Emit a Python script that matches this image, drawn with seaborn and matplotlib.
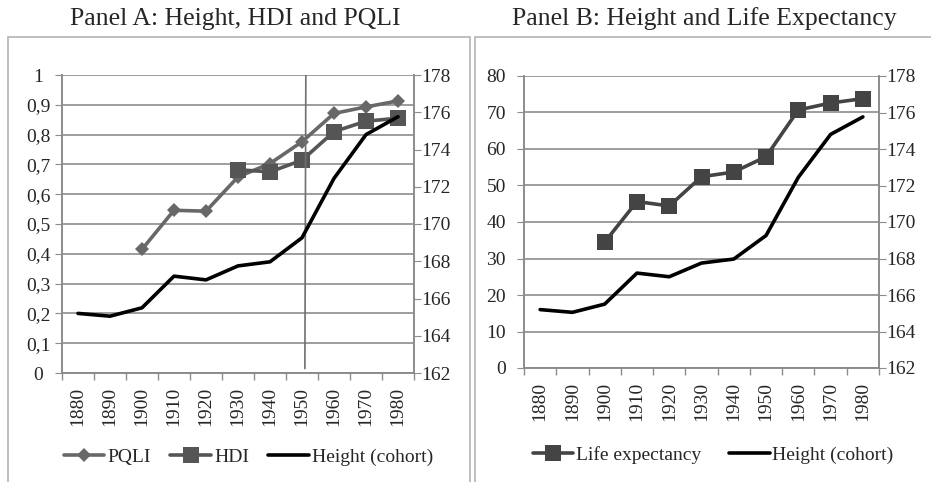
import numpy as np
import pandas as pd
import seaborn as sns
import matplotlib.pyplot as plt
from matplotlib.patches import Rectangle
from matplotlib.ticker import FixedLocator, FuncFormatter

years = [1880, 1890, 1900, 1910, 1920, 1930, 1940, 1950, 1960, 1970, 1980]
height = [165.2, 165.05, 165.5, 167.2, 167.0, 167.75, 167.97, 169.26, 172.45, 174.8, 175.76]
pqli_years = [1900, 1910, 1920, 1930, 1940, 1950, 1960, 1970, 1980]
pqli = [0.415, 0.546, 0.543, 0.658, 0.703, 0.776, 0.871, 0.893, 0.913]
hdi_years = [1930, 1940, 1950, 1960, 1970, 1980]
hdi = [0.682, 0.675, 0.714, 0.810, 0.845, 0.855]
le_years = [1900, 1910, 1920, 1930, 1940, 1950, 1960, 1970, 1980]
life_exp = [34.5, 45.6, 44.4, 52.4, 53.7, 57.9, 70.7, 72.6, 73.8]

sns.set_style('white')
plt.rcParams['font.family'] = ['Liberation Serif', 'DejaVu Serif']

GRID = '#8c8c8c'
FS = 14
pos = {y: i for i, y in enumerate(years)}

h_df = pd.DataFrame({'x': [pos[y] for y in years], 'v': height})
pqli_df = pd.DataFrame({'x': [pos[y] for y in pqli_years], 'v': pqli})
hdi_df = pd.DataFrame({'x': [pos[y] for y in hdi_years], 'v': hdi})
le_df = pd.DataFrame({'x': [pos[y] for y in le_years], 'v': life_exp})

W, H = 931, 482
fig = plt.figure(figsize=(W / 100, H / 100), dpi=100)


def px_axes(left, right, top, bottom):
    return fig.add_axes([left / W, 1 - bottom / H, (right - left) / W, (bottom - top) / H])


def style_axes(ax, ax2, yticks, ylim, fmt, lpad):
    ax.set_xlim(-0.5, len(years) - 0.5)
    ax.set_ylim(*ylim)
    ax.set_yticks(yticks)
    ax.yaxis.set_major_formatter(FuncFormatter(fmt))
    ax.set_xticks(range(len(years)))
    ax.set_xticklabels([str(y) for y in years], rotation=90)
    ax.xaxis.set_minor_locator(FixedLocator(np.arange(-0.5, len(years), 1)))
    ax.tick_params(axis='x', which='major', length=0, pad=10, labelsize=FS)
    ax.tick_params(axis='x', which='minor', length=5, color=GRID, width=1, direction='out', bottom=True)
    ax.tick_params(axis='y', length=5, color=GRID, direction='out', labelsize=FS, left=True, pad=lpad)
    ax.grid(axis='y', color=GRID, linewidth=1.2)
    ax.set_axisbelow(True)
    ax2.set_xlim(-0.5, len(years) - 0.5)
    ax2.set_ylim(162, 178)
    ax2.set_yticks(range(162, 179, 2))
    ax2.tick_params(axis='y', length=5, color=GRID, direction='out', labelsize=FS, right=True, pad=0.5)
    ax2.set_ylabel('')
    ax.set_xlabel('')
    ax.set_ylabel('')
    for a in (ax, ax2):
        for s in a.spines.values():
            s.set_color(GRID)
            s.set_linewidth(1.2)
        a.spines['top'].set_visible(False)


# panel frames
fig.patches.append(Rectangle((8 / W, -0.1), (470 - 8) / W, 1.1 - 37 / H, transform=fig.transFigure,
                             fill=False, edgecolor='#b4b4b4', linewidth=1.2))
fig.patches.append(Rectangle((475 / W, -0.1), 0.6, 1.1 - 37 / H, transform=fig.transFigure,
                             fill=False, edgecolor='#b4b4b4', linewidth=1.2))

# Panel A
axA = px_axes(62, 414, 75, 373)
axA2 = axA.twinx()
sns.lineplot(data=pqli_df, x='x', y='v', ax=axA, color='#686868', linewidth=2.6,
             marker='D', markersize=7, markeredgewidth=0, label='PQLI', legend=False)
sns.lineplot(data=hdi_df, x='x', y='v', ax=axA, color='#555555', linewidth=2.6,
             marker='s', markersize=11, markeredgewidth=0, label='HDI', legend=False)
sns.lineplot(data=h_df, x='x', y='v', ax=axA2, color='black', linewidth=2.6,
             label='Height (cohort)', legend=False)
style_axes(axA, axA2, np.round(np.arange(0, 1.01, 0.1), 1), (0, 1),
           lambda v, p: ('%g' % v).replace('.', ','), 12)
for t in axA.get_yticklabels():
    t.set_ha('center')
axA.plot([pos[1950] + 0.12, pos[1950] + 0.09], [1, 0.015], color='#707070', linewidth=1.2, zorder=5)

hA = axA.get_lines()[:2] + axA2.get_lines()[:1]
fig.legend(hA, ['PQLI', 'HDI', 'Height (cohort)'], loc='center left',
           bbox_to_anchor=(46 / W, 1 - 457 / H), ncol=3, frameon=False, fontsize=14,
           handlelength=2.1, handletextpad=0.15, columnspacing=1.0, borderpad=0.4)

fig.text(235 / W, 1 - 19 / H, 'Panel A: Height, HDI and PQLI', ha='center', va='center', fontsize=18.5)

# Panel B
axB = px_axes(524, 879, 76, 368)
axB2 = axB.twinx()
sns.lineplot(data=le_df, x='x', y='v', ax=axB, color='#444444', linewidth=2.6,
             marker='s', markersize=11, markeredgewidth=0, label='Life expectancy', legend=False)
sns.lineplot(data=h_df, x='x', y='v', ax=axB2, color='black', linewidth=2.6,
             label='Height (cohort)', legend=False)
style_axes(axB, axB2, range(0, 81, 10), (0, 80), lambda v, p: '%d' % v, 8)

hB = axB.get_lines()[:1] + axB2.get_lines()[:1]
fig.legend(hB, ['Life expectancy', 'Height (cohort)'], loc='center left',
           bbox_to_anchor=(515 / W, 1 - 455 / H), ncol=2, frameon=False, fontsize=14,
           handlelength=2.1, handletextpad=0.15, columnspacing=1.4, borderpad=0.4)

fig.text(704 / W, 1 - 19 / H, 'Panel B: Height and Life Expectancy', ha='center', va='center', fontsize=18.5)

fig.savefig('out.png', dpi=100)
